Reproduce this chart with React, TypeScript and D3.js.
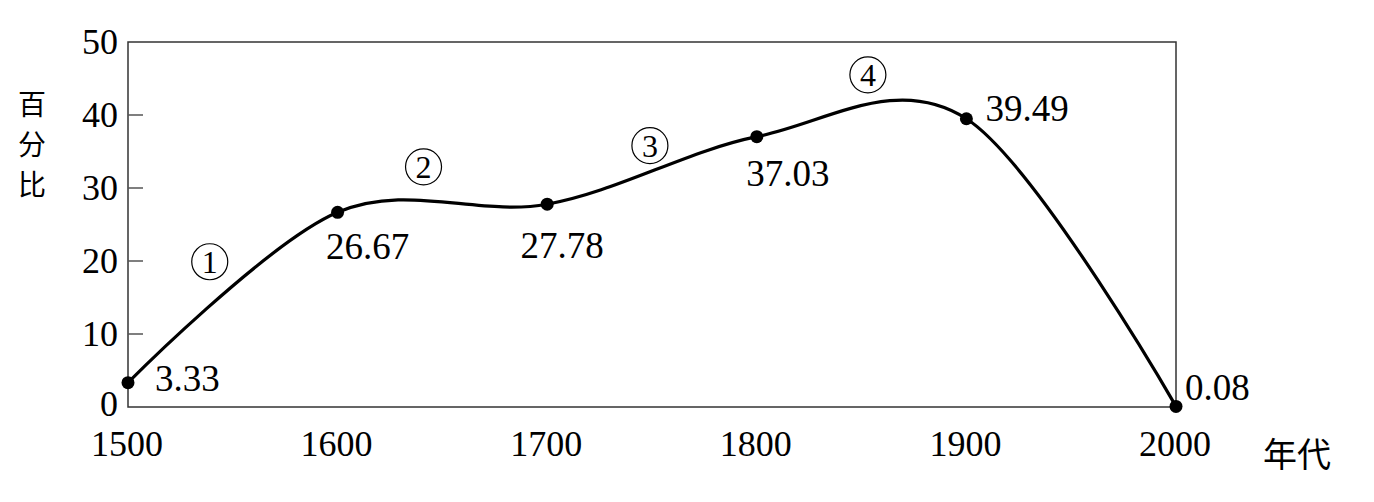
import React from "react";
import * as d3 from "d3";

const years = [1500, 1600, 1700, 1800, 1900, 2000];
const values = [3.33, 26.67, 27.78, 37.03, 39.49, 0.08];
const valueLabels = ["3.33", "26.67", "27.78", "37.03", "39.49", "0.08"];
const yTicks = [0, 10, 20, 30, 40, 50];
const xTicks = [1500, 1600, 1700, 1800, 1900, 2000];
const stageLabels = ["1", "2", "3", "4"];
const stageYears = [1539, 1641, 1749, 1853];
const stageValues = [19.9, 32.9, 35.8, 45.5];
const yAxisTitle = ["百", "分", "比"];
const xAxisTitle = "年代";

const W = 1374;
const H = 502;
const serif = "'Liberation Serif', 'Times New Roman', serif";
const cjk = "'Noto Sans CJK SC', sans-serif";

export default function App() {
  const x = d3.scaleLinear().domain([1500, 2000]).range([128, 1176]);
  const y = d3.scaleLinear().domain([0, 50]).range([407, 42]);
  const line = d3
    .line<number>()
    .x((_, i) => x(years[i]))
    .y((d) => y(d))
    .curve(d3.curveCardinal.tension(0));
  const path = line(values) || "";

  // label offsets (dx, dy to baseline) per point
  const labelPos = [
    { dx: 27, dy: 8, anchor: "start" },
    { dx: 30, dy: 47, anchor: "middle" },
    { dx: 15, dy: 54, anchor: "middle" },
    { dx: 31, dy: 49, anchor: "middle" },
    { dx: 19, dy: 2, anchor: "start" },
    { dx: 9, dy: -6, anchor: "start" },
  ];

  return (
    <svg
      width={W}
      height={H}
      style={{ position: "absolute", left: 0, top: 0, background: "#fff" }}
    >
      <rect x={0} y={0} width={W} height={H} fill="#fff" />
      {/* frame */}
      <rect
        x={x(1500)}
        y={y(50)}
        width={x(2000) - x(1500)}
        height={y(0) - y(50)}
        fill="none"
        stroke="#333"
        strokeWidth={1.5}
      />
      {/* y ticks */}
      {yTicks.map((t) => (
        <g key={t}>
          {t > 0 && t < 50 && (
            <line
              x1={x(1500)}
              x2={x(1500) + 15}
              y1={y(t)}
              y2={y(t)}
              stroke="#555"
              strokeWidth={1.5}
            />
          )}
          <text
            x={118}
            y={y(t) + (t === 0 ? 9 : 12)}
            textAnchor="end"
            fontFamily={serif}
            fontSize={36}
            fill="#000"
          >
            {t}
          </text>
        </g>
      ))}
      {/* x tick labels */}
      {xTicks.map((t) => (
        <text
          key={t}
          x={x(t) - 1}
          y={456}
          textAnchor="middle"
          fontFamily={serif}
          fontSize={36}
          fill="#000"
        >
          {t}
        </text>
      ))}
      {/* axis titles */}
      {yAxisTitle.map((c, i) => (
        <text
          key={c}
          x={32}
          y={115 + i * 40}
          textAnchor="middle"
          fontFamily={cjk}
          fontSize={28}
          fill="#000"
        >
          {c}
        </text>
      ))}
      <text
        x={1297}
        y={467}
        textAnchor="middle"
        fontFamily={cjk}
        fontSize={34}
        fill="#000"
      >
        {xAxisTitle}
      </text>
      {/* curve */}
      <path d={path} fill="none" stroke="#000" strokeWidth={3.2} />
      {values.map((v, i) => (
        <circle key={i} cx={x(years[i])} cy={y(v)} r={6.5} fill="#000" />
      ))}
      {values.map((v, i) => (
        <text
          key={"l" + i}
          x={x(years[i]) + labelPos[i].dx}
          y={y(v) + labelPos[i].dy}
          textAnchor={labelPos[i].anchor as any}
          fontFamily={serif}
          fontSize={37}
          fill="#000"
        >
          {valueLabels[i]}
        </text>
      ))}
      {/* stage markers */}
      {stageLabels.map((s, i) => (
        <g key={"s" + s}>
          <circle
            cx={x(stageYears[i])}
            cy={y(stageValues[i])}
            r={18}
            fill="none"
            stroke="#000"
            strokeWidth={1.2}
          />
          <text
            x={x(stageYears[i])}
            y={y(stageValues[i]) + 11}
            textAnchor="middle"
            fontFamily={serif}
            fontSize={32}
            fill="#000"
          >
            {s}
          </text>
        </g>
      ))}
    </svg>
  );
}
